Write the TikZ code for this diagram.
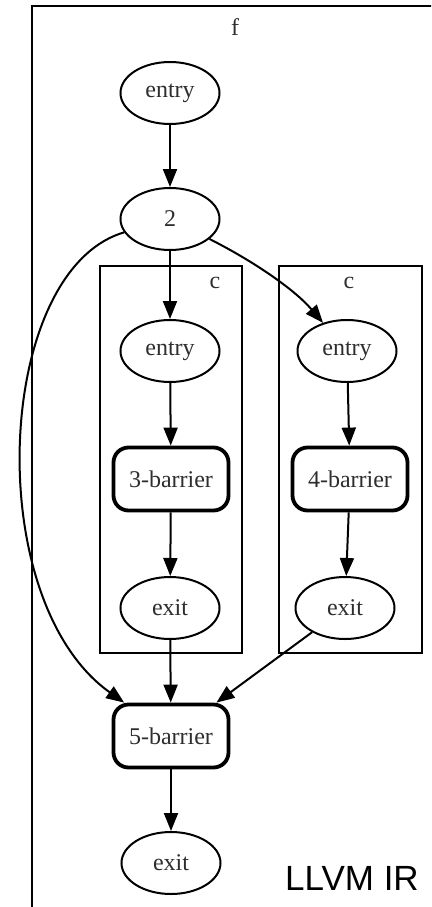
\documentclass[tikz,border=0pt]{standalone}
\usepackage{fontspec}
\setmainfont{Liberation Serif}
\newfontfamily\labelsans{Liberation Sans}
\usetikzlibrary{shapes.geometric,arrows.meta}

\begin{document}
\begin{tikzpicture}[x=1pt,y=-1pt,
  every node/.style={font=\fontsize{24}{28}\selectfont, text=black!82},
  oval/.style={draw, ellipse, line width=2pt, minimum width=99pt, minimum height=62pt, inner sep=0pt},
  barrier/.style={draw, rounded corners=15pt, line width=3.8pt, minimum width=115pt, minimum height=63pt, inner sep=0pt},
  cluster/.style={draw, line width=2pt},
  edge/.style={line width=2pt, -{Triangle[length=18pt,width=14pt]}},
]
% page area
\clip (0,0) rectangle (431,907);
\fill[white] (0,0) rectangle (431,907);

% clusters
\draw[cluster] (32,6) rectangle (445,925);
\node (flabel) at (235,27) {f};
\draw[cluster] (100,266) rectangle (242,653);
\node (c1label) at (215,283) {c};
\draw[cluster] (279,266) rectangle (422,653);
\node (c2label) at (349,283) {c};

% nodes
\node[oval] (entry) at (170,93) {entry};
\node[oval] (n2) at (170,219) {2};
\node[oval] (e1) at (170,351) {entry};
\node[barrier] (b3) at (171,479) {3-barrier};
\node[oval] (x1) at (170,608) {exit};
\node[oval] (e2) at (347,351) {entry};
\node[barrier] (b4) at (350,479) {4-barrier};
\node[oval] (x2) at (345,608) {exit};
\node[barrier] (b5) at (171,736) {5-barrier};
\node[oval] (exit) at (171,863) {exit};

\node[font=\labelsans\fontsize{35}{40}\selectfont, text=black] (ir) at (352,878) {LLVM IR};

% edges
\draw[edge] (entry) -- (n2);
\draw[edge] (n2) -- (e1);
\draw[edge] (n2) .. controls (255,262) and (295,290) .. (e2);
\draw[edge] (n2) .. controls (-5,270) and (-20,600) .. (b5);
\draw[edge] (e1) -- (b3);
\draw[edge] (b3) -- (x1);
\draw[edge] (e2) -- (b4);
\draw[edge] (b4) -- (x2);
\draw[edge] (x1) -- (b5);
\draw[edge] (x2) -- (b5);
\draw[edge] (b5) -- (exit);
\end{tikzpicture}
\end{document}
